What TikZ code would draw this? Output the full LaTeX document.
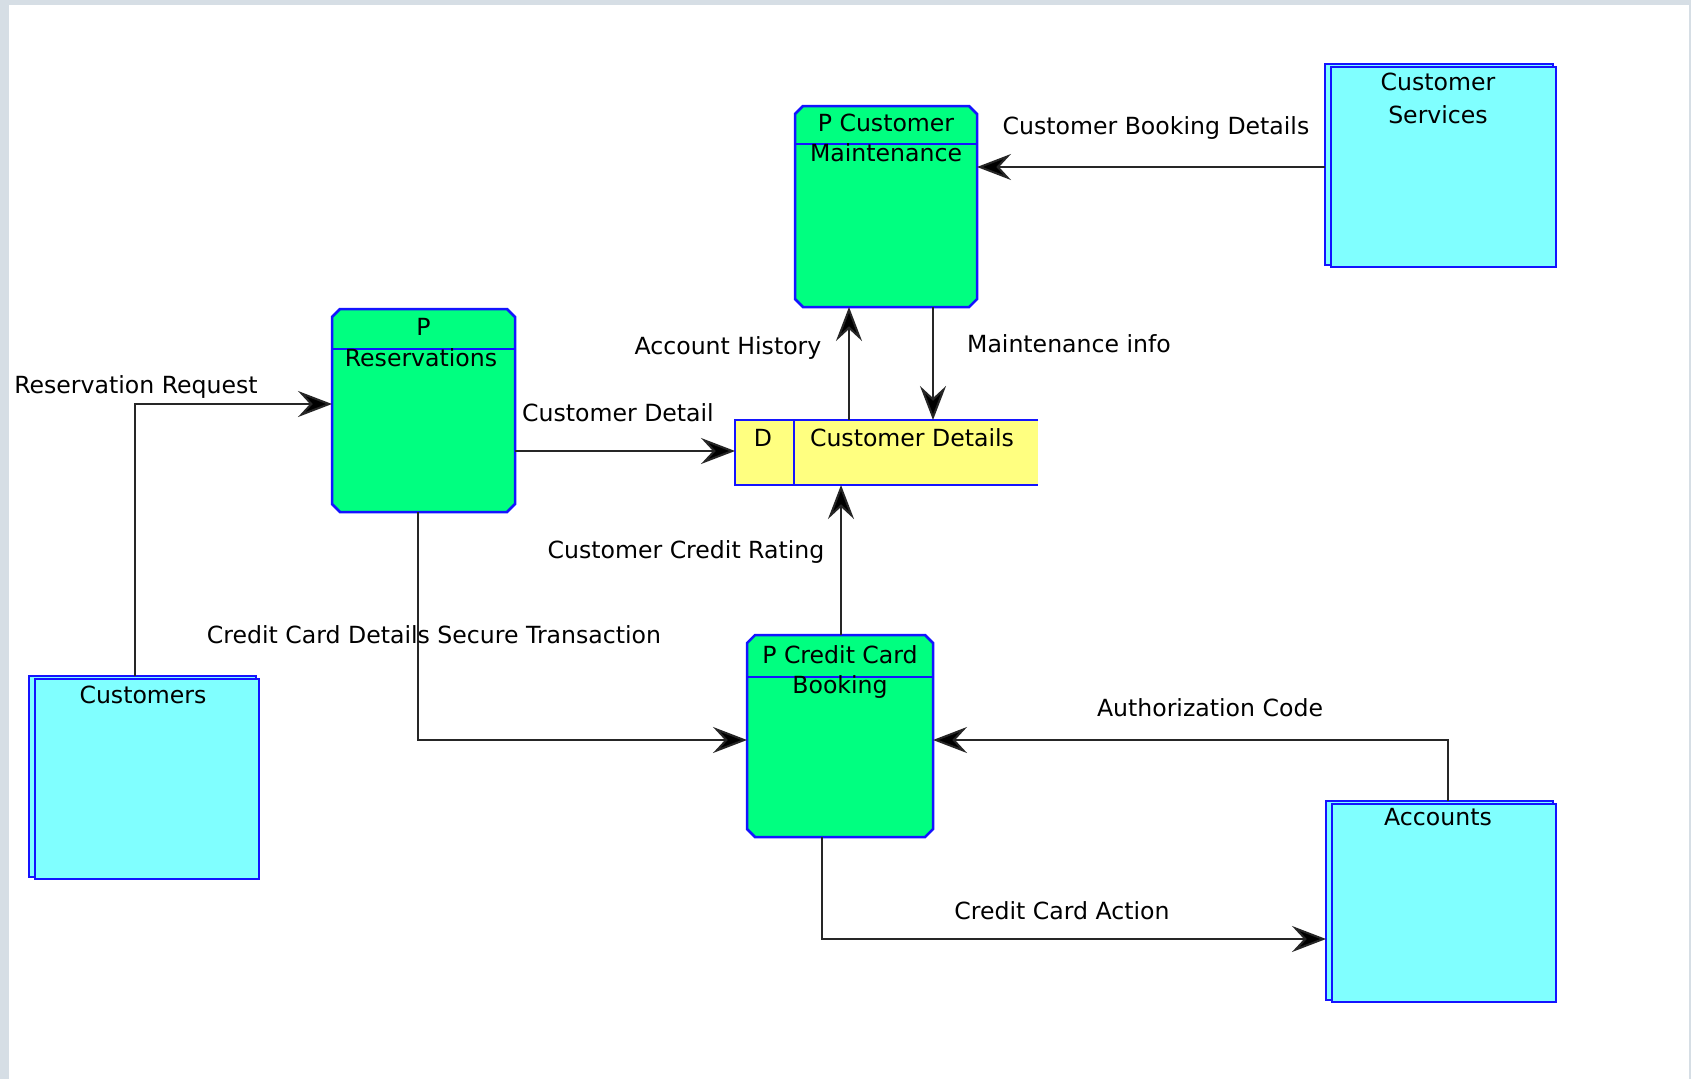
\documentclass[tikz,border=0pt]{standalone}
\usepackage{fontspec}
\setmainfont{DejaVu Sans}
\usetikzlibrary{arrows.meta,calc}
\definecolor{procgreen}{RGB}{0,255,128}
\definecolor{extcyan}{RGB}{128,255,255}
\definecolor{storeyellow}{RGB}{255,255,128}
\definecolor{edgeblue}{RGB}{20,20,255}
\definecolor{framegray}{RGB}{214,222,229}

\tikzset{
  box/.style={rectangle, inner sep=0pt, outer sep=0pt, draw=none},
  flow/.style={draw=black!85, line width=2pt,
    -{Stealth[length=34pt,width=26pt,inset=12pt,fill=black]}},
  lbl/.style={anchor=base, inner sep=0pt, font=\fontsize{23.6}{28}\selectfont},
  outline/.style={draw=edgeblue, line width=2.5pt},
}

% process box: chamfered green outline with a divider under the id line
\newcommand\procbox[2]{%
  \filldraw[outline, fill=procgreen]
    ($(#1.north west)+(0,8)$) -- ($(#1.north west)+(8,0)$) --
    ($(#1.north east)+(-8,0)$) -- ($(#1.north east)+(0,8)$) --
    ($(#1.south east)+(0,-8)$) -- ($(#1.south east)+(-8,0)$) --
    ($(#1.south west)+(8,0)$) -- ($(#1.south west)+(0,-8)$) -- cycle;
  \draw[outline] (#1.west |- 0,#2) -- (#1.east |- 0,#2);}

% external entity: two overlapping cyan rectangles
\newcommand\extbox[1]{%
  \filldraw[outline, fill=extcyan] (#1.north west) rectangle ($(#1.south east)+(-3,-2)$);
  \filldraw[outline, fill=extcyan] ($(#1.north west)+(6,3)$) rectangle (#1.south east);}

\begin{document}
\begin{tikzpicture}[x=1pt, y=-1pt]
  \useasboundingbox (0,0) rectangle (1691,1079);
  \fill[framegray] (0,0) rectangle (1691,1079);
  \fill[white] (9,5) rectangle (1689,1079);

  % placement of all boxes
  \node[box, minimum width=182, minimum height=201] (cm)    at (886,206.5) {};
  \node[box, minimum width=183, minimum height=203] (res)   at (423.5,410.5) {};
  \node[box, minimum width=186, minimum height=202] (ccb)   at (840,736) {};
  \node[box, minimum width=303, minimum height=65]  (store) at (886.5,452.5) {};
  \node[box, minimum width=230, minimum height=203] (cust)  at (144,777.5) {};
  \node[box, minimum width=231, minimum height=203] (cs)    at (1440.5,165.5) {};
  \node[box, minimum width=230, minimum height=201] (acc)   at (1441,901.5) {};

  % shapes
  \procbox{cm}{144}
  \procbox{res}{349}
  \procbox{ccb}{677}
  \extbox{cust}
  \extbox{cs}
  \extbox{acc}
  \fill[storeyellow] (store.north west) rectangle (store.south east);
  \draw[outline] (store.north east) -- (store.north west) -- (store.south west) -- (store.south east);
  \draw[outline] (store.north -| 794,0) -- (store.south -| 794,0);

  % box texts
  \node[lbl] (cmA)  at (886,131) {P Customer};
  \node[lbl] (cmB)  at (886,161) {Maintenance};
  \node[lbl] (resA) at (423.5,335) {P};
  \node[lbl] (resB) at (421,366) {Reservations};
  \node[lbl] (ccbA) at (840,663) {P Credit Card};
  \node[lbl] (ccbB) at (840,693) {Booking};
  \node[lbl] (stD)  at (763,446) {D};
  \node[lbl] (stN)  at (912,446) {Customer Details};
  \node[lbl] (custN) at (143,703) {Customers};
  \node[lbl] (csA)  at (1438,90) {Customer};
  \node[lbl] (csB)  at (1438,123) {Services};
  \node[lbl] (accN) at (1438,825) {Accounts};

  % data flows
  \draw[flow] (cust.north -| 135,0) |- (res.west |- 0,404);
  \draw[flow] (res.east |- 0,451) -- (store.west |- 0,451);
  \draw[flow] (store.north -| 849,0) -- (cm.south -| 849,0);
  \draw[flow] (cm.south -| 933,0) -- (store.north -| 933,0);
  \draw[flow] (cs.west |- 0,167) -- (cm.east |- 0,167);
  \draw[flow] (ccb.north -| 841,0) -- (store.south -| 841,0);
  \draw[flow] (res.south -| 418,0) |- (ccb.west |- 0,740);
  \draw[flow] (acc.north -| 1448,0) |- (ccb.east |- 0,740);
  \draw[flow] (ccb.south -| 822,0) |- (acc.west |- 0,939);

  % flow labels
  \node[lbl] (l1) at (136,393) {Reservation Request};
  \node[lbl] (l2) at (618,421) {Customer Detail};
  \node[lbl] (l3) at (728,354) {Account History};
  \node[lbl] (l4) at (1069,352) {Maintenance info};
  \node[lbl] (l5) at (1156,134) {Customer Booking Details};
  \node[lbl] (l6) at (686,558) {Customer Credit Rating};
  \node[lbl] (l7) at (434,643) {Credit Card Details Secure Transaction};
  \node[lbl] (l8) at (1210,716) {Authorization Code};
  \node[lbl] (l9) at (1062,919) {Credit Card Action};
\end{tikzpicture}
\end{document}
